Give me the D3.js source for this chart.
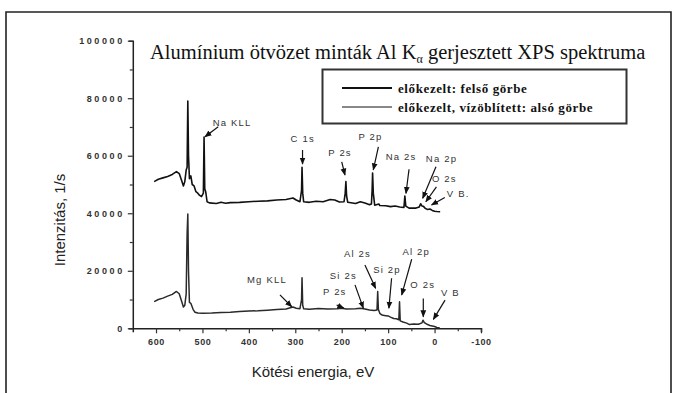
<!DOCTYPE html>
<html>
<head>
<meta charset="utf-8">
<script src="https://cdn.jsdelivr.net/npm/d3@7"></script>
<style>
  body { margin: 0; background: #fff; }
  svg { display: block; }
</style>
</head>
<body>
<div id="chart"></div>
<script>
// upper curve: előkezelt (eV, counts/s)
const upperSpectrum = [
  [604,51000],[595,51800],[585,52300],[575,52800],[565,53500],[556,54500],[550,53800],[545,51500],
  [541,49500],[538,51000],[535,55000],[533,56000],[531.5,79000],[530,60000],[528,52000],[525,53000],
  [522,50000],[518,49500],[514,47500],[510,47000],[506,46200],[502,45800],[498,47000],[496.5,66500],
  [495,48500],[493,47500],[490,44000],[485,43600],[470,43400],[460,43800],[450,43500],[440,43700],
  [420,43800],[400,44000],[380,44200],[360,44300],[340,44600],[320,44800],[305,45300],[298,44600],
  [290,44000],[286.5,48000],[285.5,56000],[284,47000],[282,44000],[270,43800],[255,44200],[240,44000],
  [225,44800],[215,44600],[205,43900],[195,44000],[192.5,47000],[191,51000],[189.5,46000],[187,43800],
  [170,43400],[160,44000],[150,43600],[140,43000],[136,43200],[134.5,48000],[133.5,54000],[132,47000],
  [129,42800],[120,43200],[118,42700],[105,42600],[95,42300],[85,42500],[75,42200],[66,42000],
  [64,46000],[62,42500],[55,41800],[40,41800],[33,42200],[30,43300],[27,42500],[24,42400],
  [20,41700],[15,41300],[10,41500],[5,41000],[0,40700],[-5,40600],[-12,40500]
];

// lower curve: előkezelt, vízöblített
const lowerSpectrum = [
  [604,9300],[595,10000],[585,10500],[575,11200],[565,11800],[556,12800],[550,12000],[545,9500],
  [541,7400],[538,8000],[535,12000],[533,33000],[531.5,39700],[530,20000],[528,9000],[525,8700],
  [520,6500],[516,5600],[510,5300],[500,5200],[480,5300],[460,5500],[440,5600],[420,5800],
  [400,6000],[380,6100],[360,6300],[340,6500],[320,6700],[305,7400],[298,7000],[290,6800],
  [286.5,10000],[285.5,17600],[284,8000],[282,6800],[270,6600],[250,6900],[230,6700],[210,6800],
  [200,7000],[190,6700],[170,6800],[160,7000],[150,6700],[140,6400],[130,6200],[124,6400],
  [122.5,12800],[121,6500],[118,5200],[114,4700],[111,4500],[105,4400],[100,4300],[95,3900],
  [88,3400],[82,3300],[77,3000],[75.5,9200],[74,2600],[68,2200],[60,1800],[54,1300],
  [45,1500],[35,1400],[27,1900],[25,2800],[22,2000],[15,1300],[10,1000],[5,800],
  [0,600],[-5,300],[-11,200]
];

const xTicks = [600, 500, 400, 300, 200, 100, 0, -100];
const yTicks = [0, 20000, 40000, 60000, 80000, 100000];

const seriesNames = ["előkezelt: felső görbe", "előkezelt, vízöblített: alsó görbe"];

// peak labels: label centre, arrow tail, arrow tip (eV, counts)
const peakNotes = [
  { t: "Na KLL", l: [436, 71700], a: [466, 70100], b: [494.5, 66600] },
  { t: "C 1s",   l: [284, 66100], a: [284.4, 62000], b: [284.4, 57100] },
  { t: "P 2s",   l: [203.7, 61100], a: [200, 57900], b: [193, 53300] },
  { t: "P 2p",   l: [138, 66600], a: [121, 63100], b: [132, 55100] },
  { t: "Na 2s",  l: [72, 59900], a: [55, 55300], b: [61.6, 46900] },
  { t: "Na 2p",  l: [-15, 59100], a: [-3, 56200], b: [25.6, 45200] },
  { t: "O 2s",   l: [-21, 52200], a: [-4, 49200], b: [18.8, 44000] },
  { t: "V B.",   l: [-51, 46900], a: [-22, 45500], b: [6.5, 42900] },
  { t: "Mg KLL", l: [361, 16800], a: [333, 11600], b: [307.7, 7500] },
  { t: "P 2s",   l: [215, 12700], a: [211, 8100], b: [195.4, 7000] },
  { t: "Si 2s",  l: [196.6, 18500], a: [171.4, 15100], b: [153.5, 7000] },
  { t: "Al 2s",  l: [166, 26100], a: [150, 22000], b: [127, 13900] },
  { t: "Si 2p",  l: [102.5, 20300], a: [92.6, 17400], b: [98.4, 7000] },
  { t: "Al 2p",  l: [39.4, 26600], a: [49.3, 24000], b: [70.8, 11600] },
  { t: "O 2s",   l: [25.4, 15100], a: [24.3, 10400], b: [24.3, 4000] },
  { t: "V B",    l: [-34, 12400], a: [-22.6, 9800], b: [2.6, 3100] }
];

const width = 677;
const height = 393;

const svg = d3.select("#chart")
  .append("svg")
  .attr("width", width)
  .attr("height", height);

// outer frame
svg.append("path")
  .attr("d", "M6,400 L6,12 L671,12 L671,400")
  .attr("fill", "none")
  .attr("stroke", "#222")
  .attr("stroke-width", 1.6);

const x = d3.scaleLinear().domain([650, -100]).range([132.8, 481]);
const y = d3.scaleLinear().domain([0, 100000]).range([328.3, 40.7]);

// axes
const xAxis = svg.append("g")
  .attr("transform", "translate(0," + y(0) + ")")
  .call(d3.axisBottom(x).tickValues(d3.range(600, -101, -50)).tickSize(4)
    .tickFormat(d => xTicks.includes(d) ? d : ""));
xAxis.selectAll(".tick line").attr("y2", d => xTicks.includes(d) ? 5 : 3);

const yAxis = svg.append("g")
  .attr("transform", "translate(" + x(650) + ",0)")
  .call(d3.axisLeft(y).tickValues(d3.range(0, 100001, 10000)).tickSize(4)
    .tickFormat(d => yTicks.includes(d) ? d : ""));
yAxis.selectAll(".tick line").attr("x2", d => yTicks.includes(d) ? -5 : -3);

svg.selectAll(".domain").attr("stroke", "#222").attr("stroke-width", 1.5);
svg.selectAll(".tick line").attr("stroke", "#333").attr("stroke-width", 1.2);
svg.selectAll(".tick text")
  .attr("fill", "#333")
  .style("font-family", "'Liberation Sans', Arial, sans-serif")
  .style("font-size", "9px")
  .style("font-weight", "bold");
xAxis.selectAll(".tick text").attr("y", 10).style("letter-spacing", "0.6px");
yAxis.selectAll(".tick text").attr("x", -8).style("letter-spacing", "2.6px");

// curves
const line = d3.line().x(d => x(d[0])).y(d => y(d[1]));

svg.append("path")
  .datum(lowerSpectrum)
  .attr("d", line)
  .attr("fill", "none")
  .attr("stroke", "#2a2a2a")
  .attr("stroke-width", 1.5)
  .attr("stroke-linejoin", "round");

svg.append("path")
  .datum(upperSpectrum)
  .attr("d", line)
  .attr("fill", "none")
  .attr("stroke", "#111")
  .attr("stroke-width", 1.6)
  .attr("stroke-linejoin", "round");

// arrows
svg.append("defs").append("marker")
  .attr("id", "head")
  .attr("viewBox", "0 0 10 10")
  .attr("refX", 9).attr("refY", 5)
  .attr("markerWidth", 6).attr("markerHeight", 6)
  .attr("orient", "auto")
  .append("path")
  .attr("d", "M0,1 L10,5 L0,9 Z")
  .attr("fill", "#111");

svg.selectAll("line.arrow")
  .data(peakNotes)
  .enter()
  .append("line")
  .attr("class", "arrow")
  .attr("x1", d => x(d.a[0])).attr("y1", d => y(d.a[1]))
  .attr("x2", d => x(d.b[0])).attr("y2", d => y(d.b[1]))
  .attr("stroke", "#111")
  .attr("stroke-width", 1.2)
  .attr("marker-end", "url(#head)");

svg.selectAll("text.peak")
  .data(peakNotes)
  .enter()
  .append("text")
  .attr("class", "peak")
  .text(d => d.t)
  .attr("x", d => x(d.l[0]))
  .attr("y", d => y(d.l[1]))
  .attr("text-anchor", "middle")
  .attr("dominant-baseline", "central")
  .attr("fill", "#333")
  .style("font-family", "'Liberation Sans', Arial, sans-serif")
  .style("font-size", "9.5px")
  .style("letter-spacing", "1.2px");

// title
const title = svg.append("text")
  .attr("x", 150)
  .attr("y", 59)
  .attr("fill", "#111")
  .style("font-family", "'Liberation Serif', 'Times New Roman', serif")
  .style("font-size", "20.5px");
title.append("tspan").text("Alumínium ötvözet minták Al K");
title.append("tspan").text("α").attr("dy", 4).style("font-size", "12px");
title.append("tspan").text(" gerjesztett XPS spektruma").attr("dy", -4);

// legend
const legend = svg.append("g");
legend.append("rect")
  .attr("x", 322.5).attr("y", 69.5)
  .attr("width", 304).attr("height", 54)
  .attr("fill", "#fff")
  .attr("stroke", "#333")
  .attr("stroke-width", 2);

const legendColors = ["#111", "#888"];
seriesNames.forEach((name, i) => {
  legend.append("line")
    .attr("x1", 342).attr("x2", 392)
    .attr("y1", 88 + i * 19).attr("y2", 88 + i * 19)
    .attr("stroke", legendColors[i])
    .attr("stroke-width", 1.8);
  legend.append("text")
    .text(name)
    .attr("x", 398)
    .attr("y", 92.5 + i * 19)
    .attr("fill", "#111")
    .style("font-family", "'Liberation Serif', 'Times New Roman', serif")
    .style("font-size", "13px")
    .style("font-weight", "bold")
    .style("letter-spacing", "0.6px");
});

// axis titles
svg.append("text")
  .text("Kötési energia, eV")
  .attr("x", 313)
  .attr("y", 377)
  .attr("text-anchor", "middle")
  .attr("fill", "#222")
  .style("font-family", "'Liberation Sans', Arial, sans-serif")
  .style("font-size", "15px");

svg.append("text")
  .text("Intenzitás, 1/s")
  .attr("transform", "translate(65,220) rotate(-90)")
  .attr("text-anchor", "middle")
  .attr("fill", "#222")
  .style("font-family", "'Liberation Sans', Arial, sans-serif")
  .style("font-size", "15px");
</script>
</body>
</html>
